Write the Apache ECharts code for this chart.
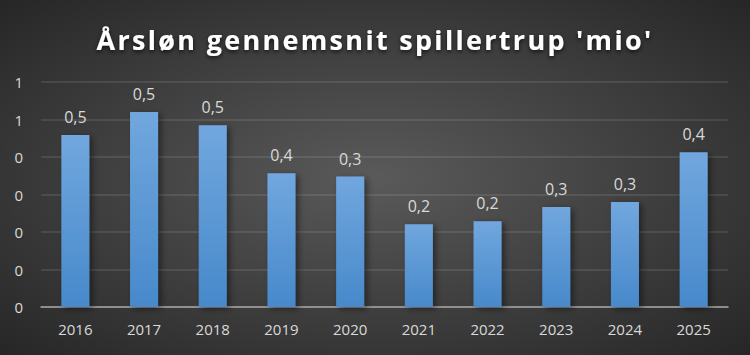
<!DOCTYPE html>
<html>
<head>
<meta charset="utf-8">
<script src="https://cdn.jsdelivr.net/npm/echarts@6/dist/echarts.min.js"></script>
<style>
html,body{margin:0;padding:0;background:#333;}
#c{width:750px;height:355px;}
#c text[style*="27px"]{letter-spacing:2.3px;}
</style>
</head>
<body>
<div id="c"></div>
<script>
const categories = ['2016','2017','2018','2019','2020','2021','2022','2023','2024','2025'];
const values = [0.459, 0.520, 0.485, 0.357, 0.348, 0.221, 0.229, 0.267, 0.280, 0.413];
const yTickLabels = ['0','0','0','0','0','1','1'];
const titleText = "Årsløn gennemsnit spillertrup 'mio'";

const chart = echarts.init(document.getElementById('c'), null, {renderer: 'svg'});
chart.setOption({
  animation: false,
  backgroundColor: {
    type: 'radial', x: 0.5, y: 0.5, r: 0.75,
    colorStops: [{offset: 0, color: '#5a5a5a'}, {offset: 1, color: '#232323'}]
  },
  title: {
    text: titleText,
    left: 'center',
    top: 21,
    textStyle: {
      color: '#ffffff', fontSize: 27, fontWeight: 'bold', fontFamily: 'Open Sans',
      textShadowColor: 'rgba(0,0,0,0.7)', textShadowBlur: 4, textShadowOffsetY: 2
    }
  },
  grid: {left: 41, right: 22, top: 82, bottom: 48, containLabel: false},
  xAxis: {
    type: 'category',
    data: categories,
    axisTick: {show: false},
    axisLine: {lineStyle: {color: '#a6a6a6', width: 1.5}},
    axisLabel: {color: '#d9d9d9', fontSize: 15, fontFamily: 'Open Sans', margin: 14}
  },
  yAxis: {
    type: 'value',
    min: 0, max: 0.6, interval: 0.1,
    axisLine: {show: false},
    axisTick: {show: false},
    splitLine: {lineStyle: {color: 'rgba(255,255,255,0.13)', width: 1.5}},
    axisLabel: {
      color: '#d9d9d9', fontSize: 15, fontFamily: 'Open Sans', margin: 18,
      formatter: function (v) { return yTickLabels[Math.round(v * 10)]; }
    }
  },
  series: [{
    type: 'bar',
    data: values,
    barWidth: 28,
    itemStyle: {
      color: {type: 'linear', x: 0, y: 0, x2: 0, y2: 1,
        colorStops: [{offset: 0, color: '#71a7de'}, {offset: 1, color: '#4789cb'}]},
      shadowColor: 'rgba(0,0,0,0.45)', shadowBlur: 6, shadowOffsetX: 3, shadowOffsetY: 2
    },
    label: {
      show: true, position: 'top', distance: 10,
      color: '#d9d9d9', fontSize: 16, fontFamily: 'Open Sans',
      formatter: function (p) { return p.value.toFixed(1).replace('.', ','); }
    }
  }]
});
</script>
</body>
</html>
